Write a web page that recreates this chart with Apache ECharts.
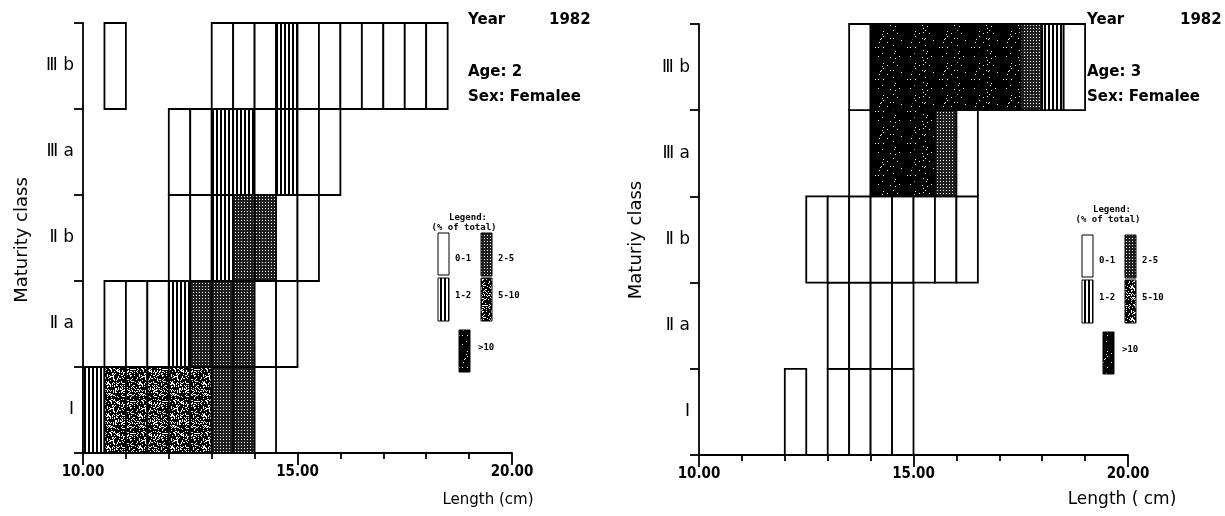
<!DOCTYPE html>
<html>
<head>
<meta charset="utf-8">
<script src="https://cdn.jsdelivr.net/npm/echarts@6/dist/echarts.min.js"></script>
<style>
html,body{margin:0;padding:0;background:#fff;}
#chart{width:1225px;height:516px;}
</style>
</head>
<body>
<div id="chart"></div>
<script>
// ---------- DATA ----------
const LENGTH_BIN = 0.5;                       // cm, width of a length class
const maturityClasses = ['Ⅰ', 'Ⅱ a', 'Ⅱ b', 'Ⅲ a', 'Ⅲ b'];
const percentClasses = ['0-1', '1-2', '2-5', '5-10', '>10'];   // legend (% of total)
const xTickValues = [10, 15, 20];

// Age 2 females: first length class of each maturity row, then the percent class per 0.5 cm bin
const age2RowStart = [10.0, 10.5, 12.0, 12.0, 10.5];
const age2Row_I   = [1, 3, 3, 3, 3, 3, 2, 2, 0];
const age2Row_IIa = [0, 0, 0, 1, 2, 2, 2, 0, 0];
const age2Row_IIb = [0, 0, 1, 2, 2, 0, 0];
const age2Row_IIIa = [0, 0, 1, 1, 0, 1, 0, 0];
const age2Row_IIIb = [0, null, null, null, null, 0, 0, 0, 1, 0, 0, 0, 0, 0, 0, 0];

// Age 3 females
const age3RowStart = [12.0, 13.0, 12.5, 13.5, 13.5];
const age3Row_I   = [0, null, 0, 0, 0, 0];
const age3Row_IIa = [0, 0, 0, 0];
const age3Row_IIb = [0, 0, 0, 0, 0, 0, 0, 0];
const age3Row_IIIa = [0, 4, 4, 4, 2, 0];
const age3Row_IIIb = [0, 4, 4, 4, 4, 4, 4, 4, 2, 1, 0];

function buildCells(starts, rows) {
  const out = [];
  rows.forEach((row, r) => {
    row.forEach((cls, i) => {
      if (cls !== null) out.push([starts[r] + i * LENGTH_BIN, r, cls]);
    });
  });
  return out;
}
const age2Cells = buildCells(age2RowStart, [age2Row_I, age2Row_IIa, age2Row_IIb, age2Row_IIIa, age2Row_IIIb]);
const age3Cells = buildCells(age3RowStart, [age3Row_I, age3Row_IIa, age3Row_IIb, age3Row_IIIa, age3Row_IIIb]);

// ---------- PATTERNS ----------
function hash(i, j) { const s = Math.sin(i * 12.9898 + j * 78.233) * 43758.5453; return s - Math.floor(s); }
function makeCanvas(w, h, draw) {
  const c = document.createElement('canvas'); c.width = w; c.height = h;
  draw(c.getContext('2d'), w, h); return c;
}
const patWhite = '#ffffff';
const patStripes = { image: makeCanvas(4, 4, (ctx) => { ctx.fillStyle = '#fff'; ctx.fillRect(0, 0, 4, 4); ctx.fillStyle = '#000'; ctx.fillRect(0, 0, 2, 4); }), repeat: 'repeat' };
const patGrid = { image: makeCanvas(3, 3, (ctx) => { ctx.fillStyle = '#1e1e1e'; ctx.fillRect(0, 0, 3, 3); ctx.fillStyle = '#fff'; ctx.fillRect(1, 1, 1, 1); }), repeat: 'repeat' };
const patStipple = { image: makeCanvas(32, 32, (ctx, w, h) => {
  ctx.fillStyle = '#fff'; ctx.fillRect(0, 0, w, h); ctx.fillStyle = '#000';
  for (let i = 0; i < w; i++) for (let j = 0; j < h; j++) if (hash(i, j) < 0.74) ctx.fillRect(i, j, 1, 1);
}), repeat: 'repeat' };
const patBlack = { image: makeCanvas(32, 32, (ctx, w, h) => {
  ctx.fillStyle = '#000'; ctx.fillRect(0, 0, w, h); ctx.fillStyle = '#fff';
  for (let i = 0; i < w; i++) for (let j = 0; j < h; j++) if (hash(i + 3, j + 7) < 0.03) ctx.fillRect(i, j, 1, 1);
}), repeat: 'repeat' };
const fills = [patWhite, patStripes, patGrid, patStipple, patBlack];

function renderCell(params, api) {
  const x0 = api.value(0), row = api.value(1), cls = api.value(2);
  const a = api.coord([x0, row]);
  const b = api.coord([x0 + LENGTH_BIN, row]);
  const h = api.size([0, 1])[1];
  return {
    type: 'rect',
    shape: { x: a[0], y: a[1] - h / 2, width: b[0] - a[0], height: h },
    style: { fill: fills[cls], stroke: '#000', lineWidth: 1.8 }
  };
}

// ---------- AXES ----------
const black = '#000';
function xAxisFor(gridIndex) {
  return {
    gridIndex, type: 'value', min: 10, max: 20, interval: 5,
    axisLine: { show: true, lineStyle: { color: black, width: 1.8 } },
    axisTick: { show: true, length: 12, lineStyle: { color: black, width: 1.8 } },
    minorTick: { show: true, splitNumber: 5, length: 6, lineStyle: { color: black, width: 1.8 } },
    splitLine: { show: false },
    axisLabel: {
      margin: 12, color: black, fontFamily: 'DejaVu Sans Condensed, DejaVu Sans', fontWeight: 'bold', fontSize: 15,
      formatter: (v) => xTickValues.indexOf(v) >= 0 ? v.toFixed(2) : ''
    }
  };
}
function yAxisFor(gridIndex) {
  return {
    gridIndex, type: 'category', data: maturityClasses, boundaryGap: true,
    axisLine: { show: true, lineStyle: { color: black, width: 1.8 } },
    axisTick: { show: true, length: 9, lineStyle: { color: black, width: 1.8 } },
    axisLabel: { margin: 9, color: black, fontFamily: 'DejaVu Sans', fontSize: 17 },
    splitLine: { show: false }
  };
}

// ---------- TEXT / LEGEND GRAPHICS ----------
const titleFont = 'bold 15px "DejaVu Sans"';
const legFont = 'bold 9px "DejaVu Sans Mono"';
function txt(x, y, text, font, align, extra) {
  return Object.assign({ type: 'text', x, y, style: { text, font, fill: black, align: align || 'left', verticalAlign: 'middle' } }, extra || {});
}
function swatch(x, y, w, h, cls) {
  return { type: 'rect', shape: { x, y, width: w, height: h }, style: { fill: fills[cls], stroke: black, lineWidth: 1 } };
}
function legend(dx, dyHead, dy) {
  return [
    txt(468 + dx, 218 + dyHead, 'Legend:', legFont, 'center'),
    txt(464 + dx, 228 + dyHead, '(% of total)', legFont, 'center'),
    swatch(438 + dx, 233 + dy, 11, 42, 0), txt(455 + dx, 259 + dy, percentClasses[0], legFont),
    swatch(438 + dx, 278 + dy, 11, 43, 1), txt(455 + dx, 296 + dy, percentClasses[1], legFont),
    swatch(481 + dx, 233 + dy, 11, 43, 2), txt(498 + dx, 259 + dy, percentClasses[2], legFont),
    swatch(481 + dx, 278 + dy, 11, 43, 3), txt(498 + dx, 296 + dy, percentClasses[3], legFont),
    swatch(459 + dx, 330 + dy, 11, 42, 4), txt(478 + dx, 348 + dy, percentClasses[4], legFont)
  ];
}

const graphics = [].concat(
  [
    txt(468, 20, 'Year', titleFont), txt(549, 20, '1982', titleFont),
    txt(468, 72, 'Age: 2', titleFont), txt(468, 97, 'Sex: Femalee', titleFont),
    txt(1087, 20, 'Year', titleFont), txt(1180, 20, '1982', titleFont),
    txt(1087, 72, 'Age: 3', titleFont), txt(1087, 97, 'Sex: Femalee', titleFont),
    txt(22, 240, 'Maturity class', '18px "DejaVu Sans"', 'center', { rotation: Math.PI / 2 }),
    txt(636, 240, 'Maturiy class', '18px "DejaVu Sans"', 'center', { rotation: Math.PI / 2 }),
    txt(488, 500, 'Length (cm)', '15px "DejaVu Sans"', 'center'),
    txt(1122, 500, 'Length ( cm)', '17px "DejaVu Sans"', 'center')
  ],
  legend(0, 0, 0),
  legend(644, -8, 2)
);

const chart = echarts.init(document.getElementById('chart'), null, { renderer: 'canvas' });
chart.setOption({
  backgroundColor: '#fff',
  animation: false,
  grid: [
    { left: 83, top: 23, width: 429, height: 430 },
    { left: 699, top: 24, width: 429, height: 431 }
  ],
  xAxis: [xAxisFor(0), xAxisFor(1)],
  yAxis: [yAxisFor(0), yAxisFor(1)],
  series: [
    { type: 'custom', xAxisIndex: 0, yAxisIndex: 0, renderItem: renderCell, data: age2Cells, encode: { x: 0, y: 1 } },
    { type: 'custom', xAxisIndex: 1, yAxisIndex: 1, renderItem: renderCell, data: age3Cells, encode: { x: 0, y: 1 } }
  ],
  graphic: graphics
});
</script>
</body>
</html>
